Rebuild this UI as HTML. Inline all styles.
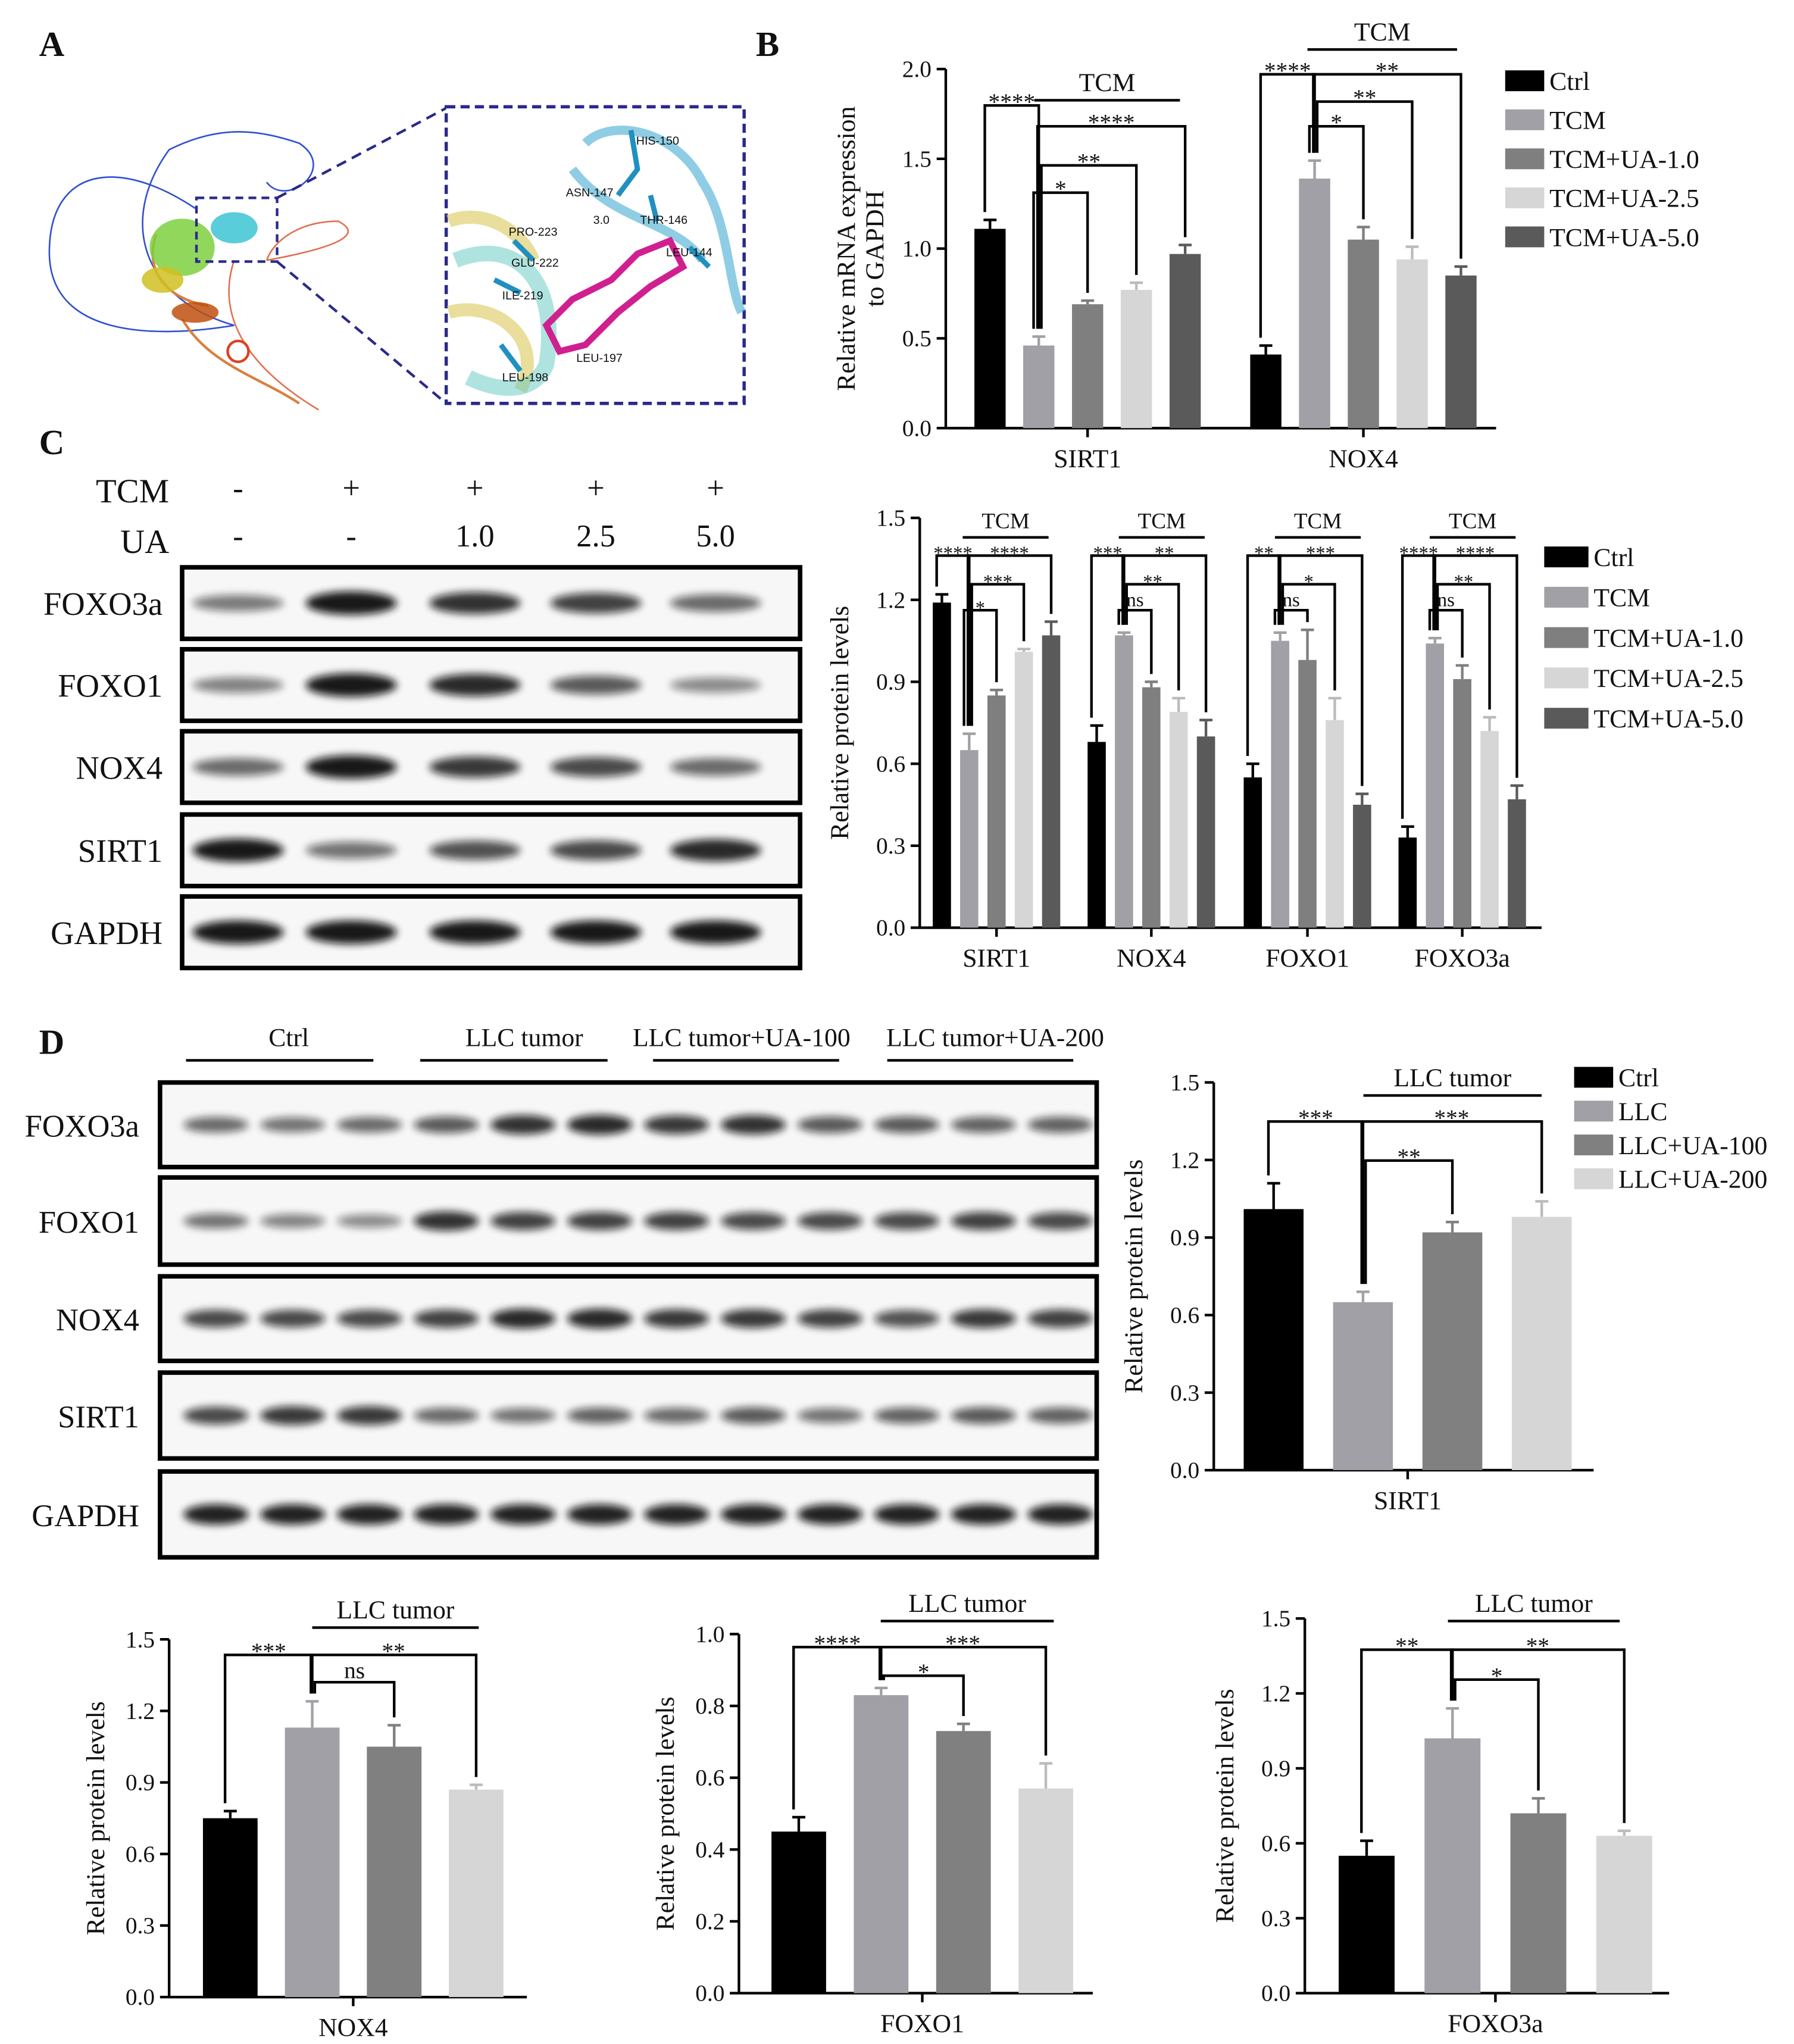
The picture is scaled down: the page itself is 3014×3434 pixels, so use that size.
<!DOCTYPE html>
<html><head><meta charset="utf-8"><style>
html,body{margin:0;padding:0;background:#fff;}
svg{display:block;font-family:"Liberation Serif",serif;}
</style></head><body>
<svg id="fig" width="3014" height="3434" viewBox="0 0 1379 1571" xmlns="http://www.w3.org/2000/svg">
<defs>
<filter id="blur" x="-20%" y="-50%" width="140%" height="200%"><feGaussianBlur stdDeviation="3"/></filter>
</defs>
<g id="root"></g>
</svg>
<script>
// ===== Data =====
const bCats = ["SIRT1","NOX4"];
const bSeries = ["Ctrl","TCM","TCM+UA-1.0","TCM+UA-2.5","TCM+UA-5.0"];
const bSirt1 = [1.11,0.46,0.69,0.77,0.97];
const bSirt1Err = [0.05,0.05,0.02,0.04,0.05];
const bNox4 = [0.41,1.39,1.05,0.94,0.85];
const bNox4Err = [0.05,0.1,0.07,0.07,0.05];
const bTicks = [0,0.5,1.0,1.5,2.0];

const cCats = ["SIRT1","NOX4","FOXO1","FOXO3a"];
const cSirt1 = [1.19,0.65,0.85,1.01,1.07];
const cNox4 = [0.68,1.07,0.88,0.79,0.70];
const cFoxo1 = [0.55,1.05,0.98,0.76,0.45];
const cFoxo3a = [0.33,1.04,0.91,0.72,0.47];
const cSirt1Err = [0.03,0.06,0.02,0.01,0.05];
const cNox4Err = [0.06,0.01,0.02,0.05,0.06];
const cFoxo1Err = [0.05,0.03,0.11,0.08,0.04];
const cFoxo3aErr = [0.04,0.02,0.05,0.05,0.05];
const cTicks = [0,0.3,0.6,0.9,1.2,1.5];

const dSeries = ["Ctrl","LLC","LLC+UA-100","LLC+UA-200"];
const dSirt1 = [1.01,0.65,0.92,0.98];
const dSirt1Err = [0.10,0.04,0.04,0.06];
const dNox4 = [0.75,1.13,1.05,0.87];
const dNox4Err = [0.03,0.11,0.09,0.02];
const dFoxo1 = [0.45,0.83,0.73,0.57];
const dFoxo1Err = [0.04,0.02,0.02,0.07];
const dFoxo3a = [0.55,1.02,0.72,0.63];
const dFoxo3aErr = [0.06,0.12,0.06,0.02];
const dTicks15 = [0,0.3,0.6,0.9,1.2,1.5];
const dTicks10 = [0,0.2,0.4,0.6,0.8,1.0];

const colsB = ["#000000","#a0a0a6","#7f7f7f","#d6d6d6","#5a5a5a"];
const colsD = ["#000000","#a0a0a6","#808080","#d6d6d6"];

// ===== helpers =====
const NS="http://www.w3.org/2000/svg";
const root=document.getElementById('root');
function el(tag,attrs,parent,text){
  const e=document.createElementNS(NS,tag);
  for(const k in attrs)e.setAttribute(k,attrs[k]);
  if(text!==undefined)e.textContent=text;
  (parent||root).appendChild(e);return e;
}
function txt(x,y,s,size,anchor,parent,name,extra){
  const t=el('text',Object.assign({x:x,y:y,'font-size':size,'text-anchor':anchor||'middle',fill:'#111'},extra||{}),parent,s);
  
  
  return t;
}
function line(x1,y1,x2,y2,w,parent,col){
  return el('line',{x1:x1,y1:y1,x2:x2,y2:y2,stroke:col||'#000','stroke-width':w||2},parent);
}

function chart(o){
  const g=el('g',{});
  
  
  const yS=v=>o.y0-v*o.scale;
  const ya=line(o.x0,yS(o.ticks[o.ticks.length-1]),o.x0,o.y0,2,g);
  
  const xa=line(o.x0,o.y0,o.xend,o.y0,2,g);
  
  o.ticks.forEach(t=>{
    line(o.x0-7,yS(t),o.x0,yS(t),2,g);
    txt(o.x0-11,yS(t)+6,t.toFixed(1),o.tf||18,'end',g,'y-tick-label');
  });
  txt(0,0,o.ylabel,o.yf||20,'middle',g,'y-axis-title',{transform:`translate(${o.ylx},${(yS(o.ticks[o.ticks.length-1])+o.y0)/2}) rotate(-90)`});
  if(o.ylabel2){txt(0,0,o.ylabel2,o.yf||20,'middle',g,'y-axis-title',{transform:`translate(${o.ylx+22},${(yS(o.ticks[o.ticks.length-1])+o.y0)/2}) rotate(-90)`});}
  o.groups.forEach(gr=>{
    const tops=[];
    gr.vals.forEach((v,i)=>{
      const x=gr.start+i*o.step;
      const r=el('rect',{x:x,y:yS(v),width:o.bw,height:v*o.scale,fill:o.cols[i]},g);
      
      
      const e=gr.errs[i], cx=x+o.bw/2;
      line(cx,yS(v),cx,yS(v+e),2,g,o.cols[i]==='#d6d6d6'?'#bbb':o.cols[i]);
      line(cx-5,yS(v+e),cx+5,yS(v+e),2,g,o.cols[i]==='#d6d6d6'?'#bbb':o.cols[i]);
      tops.push({cx:cx,top:yS(v+e)});
    });
    const mid=gr.start+((gr.vals.length-1)*o.step+o.bw)/2;
    line(mid,o.y0,mid,o.y0+7,2,g);
    txt(mid,o.y0+(o.xlOff||30),gr.label,o.xf||20,'middle',g,'x-tick-label');
    (gr.br||[]).forEach((b,k)=>{
      const a=tops[b[0]],c=tops[b[1]];
      const off=(b[0]===1?(k%3)*3:0);
      const ax=a.cx-4+off;
      el('polyline',{points:`${ax},${a.top-6} ${ax},${b[2]} ${c.cx},${b[2]} ${c.cx},${c.top-6}`,fill:'none',stroke:'#000','stroke-width':2},g);
      txt((ax+c.cx)/2,b[2]+(b[3]==='ns'?-3:3),b[3],o.sf||18,'middle',g,'significance-label');
    });
    if(gr.top){
      line(gr.top[0],gr.top[2],gr.top[1],gr.top[2],2,g);
      txt((gr.top[0]+gr.top[1])/2,gr.top[2]-7,gr.top[3],o.tlf||20,'middle',g,'group-bracket-label');
    }
  });
  if(o.legend){
    o.legend.names.forEach((n,i)=>{
      const y=o.legend.y+i*o.legend.step;
      const r=el('rect',{x:o.legend.x,y:y-8,width:o.legend.w,height:16,fill:o.cols[i]},g);
      
      txt(o.legend.x+o.legend.w+4,y+7,n,o.legend.f||20,'start',g,'legend-entry');
    });
  }
}

[["A",30,43],["B",581,43],["C",30,349],["D",30,810]].forEach(p=>{
  txt(p[1],p[2],p[0],27,'start',root,'panel-label-'+p[0].toLowerCase(),{'font-weight':'bold'});
});

(function(){
  const g=el('g',{});
  el('path',{d:'M150,160 C90,120 40,130 38,190 C35,260 120,260 180,250 C110,230 90,170 130,115 C170,95 200,100 230,110 C260,130 220,160 205,140',fill:'none',stroke:'#3050d0','stroke-width':1.2},g);
  el('path',{d:'M205,200 C260,190 280,180 260,170 C230,170 210,185 205,200 M180,200 C160,260 220,300 245,315',fill:'none',stroke:'#e07050','stroke-width':1.2},g);
  el('path',{d:'M140,245 C160,280 200,290 230,310 M120,180 C110,210 130,230 160,235',fill:'none',stroke:'#d88040','stroke-width':2},g);
  el('ellipse',{cx:140,cy:190,rx:25,ry:22,fill:'#7ed040',opacity:0.85},g);
  el('ellipse',{cx:125,cy:215,rx:16,ry:10,fill:'#d0c020',opacity:0.85},g);
  el('ellipse',{cx:150,cy:240,rx:18,ry:8,fill:'#c05010',opacity:0.85},g);
  el('ellipse',{cx:180,cy:175,rx:18,ry:12,fill:'#30c0d0',opacity:0.8},g);
  el('circle',{cx:183,cy:270,r:8,fill:'none',stroke:'#e04020','stroke-width':2},g);
  el('rect',{x:151,y:152,width:62,height:49,fill:'none',stroke:'#2a2a8a','stroke-width':2,'stroke-dasharray':'6,4'},g);
  line(213,152,343,83,2,g,'#2a2a8a').setAttribute('stroke-dasharray','8,5');
  line(213,201,343,310,2,g,'#2a2a8a').setAttribute('stroke-dasharray','8,5');
  el('rect',{x:343,y:82,width:229,height:228,fill:'#fff',stroke:'#2a2a8a','stroke-width':2.5,'stroke-dasharray':'7,4'},g);
  el('path',{d:'M345,170 C370,160 400,175 410,200 M345,240 C380,230 420,260 400,300',fill:'none',stroke:'#e0d070','stroke-width':10,opacity:0.7},g);
  el('path',{d:'M350,200 C400,180 430,220 420,280 C410,305 380,300 360,290',fill:'none',stroke:'#60c8c0','stroke-width':12,opacity:0.5},g);
  el('path',{d:'M450,110 C470,90 520,100 540,140 C560,170 560,220 570,240 M440,130 C470,170 520,170 540,200',fill:'none',stroke:'#60b8d8','stroke-width':7,opacity:0.7},g);
  el('path',{d:'M420,250 L440,230 L470,215 L490,195 L515,185 L525,205 L500,220 L475,240 L450,265 L430,270 Z',fill:'none',stroke:'#d02090','stroke-width':5},g);
  el('path',{d:'M485,100 L490,130 L475,150 M500,150 L505,170 M530,190 L545,205 M395,185 L410,200 M380,215 L400,225 M385,265 L400,285',fill:'none',stroke:'#2090c0','stroke-width':4},g);
  [["HIS-150",489,111],["ASN-147",435,151],["THR-146",492,172],["PRO-223",391,181],["LEU-144",512,197],["GLU-222",393,205],["ILE-219",386,230],["LEU-197",443,278],["LEU-198",386,293],["3.0",456,172]].forEach(l=>{
    txt(l[1],l[2],l[0],9,'start',g,'residue-label',{'font-family':'Liberation Sans, sans-serif'});
  });
})();

chart({name:'chart-b-mrna',x0:727,y0:329,scale:138,xend:1150,ticks:bTicks,ylabel:'Relative mRNA expression',ylabel2:'to GAPDH',ylx:657,bw:24,step:37.5,cols:colsB,
  groups:[
    {label:bCats[0],vals:bSirt1,errs:bSirt1Err,start:749,br:[[0,1,81,'****'],[1,4,97,'****'],[1,3,127,'**'],[1,2,148,'*']],top:[795,907,77,'TCM']},
    {label:bCats[1],vals:bNox4,errs:bNox4Err,start:961,br:[[0,1,57,'****'],[1,4,57,'**'],[1,3,78,'**'],[1,2,97,'*']],top:[1005,1120,38,'TCM']}
  ],
  legend:{names:bSeries,x:1157,y:62,step:30,w:30}});

function blot(name,x,y,w,h,label,lanes,ints,labX,bw,bh,labSize){
  const g=el('g',{});
  el('rect',{x:x,y:y,width:w,height:h,fill:'#f7f7f7',stroke:'#000','stroke-width':3.5},g);
  ints.forEach((v,i)=>{
    const b=el('ellipse',{cx:lanes[i],cy:y+h/2,rx:bw/2,ry:bh*(0.5+0.5*v)/2,fill:'#111',opacity:0.25+0.7*v,filter:'url(#blur)'},g);
    
  });
  txt(labX,y+h/2+9,label,labSize||25,'end',g,'blot-row-label');
}
const cLanes=[183,270,365,458,550];
txt(130,386,'TCM',26,'end',root,'tcm-row-label');
txt(130,425,'UA',26,'end',root,'ua-row-label');
["-","+","+","+","+"].forEach((s,i)=>txt(cLanes[i],383,s,24,'middle',root,'tcm-sign'));
["-","-","1.0","2.5","5.0"].forEach((s,i)=>txt(cLanes[i],420,s,24,'middle',root,'ua-dose'));
const cRows=[["FOXO3a",436,[0.4,1,0.85,0.75,0.5]],["FOXO1",499,[0.35,1,0.9,0.6,0.3]],["NOX4",562,[0.5,1,0.8,0.7,0.5]],["SIRT1",626,[1,0.45,0.65,0.7,0.9]],["GAPDH",689,[1,1,1,1,1]]];
cRows.forEach(r=>blot('blot-c-'+r[0].toLowerCase(),140,r[1],475,55,r[0],cLanes,r[2],125,70,18));

chart({name:'chart-c-protein',x0:707,y0:713,scale:210,xend:1185,ticks:cTicks,ylabel:'Relative protein levels',ylx:652,bw:14,step:21,cols:colsB,sf:15,tlf:17,
  groups:[
    {label:cCats[0],vals:cSirt1,errs:cSirt1Err,start:717,br:[[0,1,427,'****'],[1,4,427,'****'],[1,3,449,'***'],[1,2,469,'*']],top:[740,806,413,'TCM']},
    {label:cCats[1],vals:cNox4,errs:cNox4Err,start:836,br:[[0,1,427,'***'],[1,4,427,'**'],[1,3,449,'**'],[1,2,469,'ns']],top:[860,926,413,'TCM']},
    {label:cCats[2],vals:cFoxo1,errs:cFoxo1Err,start:956,br:[[0,1,427,'**'],[1,4,427,'***'],[1,3,449,'*'],[1,2,469,'ns']],top:[980,1046,413,'TCM']},
    {label:cCats[3],vals:cFoxo3a,errs:cFoxo3aErr,start:1075,br:[[0,1,427,'****'],[1,4,427,'****'],[1,3,449,'**'],[1,2,469,'ns']],top:[1099,1165,413,'TCM']}
  ],
  legend:{names:bSeries,x:1187,y:428,step:31,w:34}});

const dLanes=[];for(let i=0;i<12;i++)dLanes.push(166+i*59);
[["Ctrl",222,143,287],["LLC tumor",403,323,467],["LLC tumor+UA-100",570,502,645],["LLC tumor+UA-200",765,682,825]].forEach(h=>{
  txt(h[1],804,h[0],20,'middle',root,'group-header');
  line(h[2],815,h[3],815,2);
});
const dRows=[
 ["FOXO3a",832,65,[0.5,0.45,0.5,0.6,0.85,0.9,0.8,0.85,0.6,0.6,0.55,0.55]],
 ["FOXO1",905,67,[0.45,0.35,0.3,0.85,0.75,0.75,0.75,0.7,0.7,0.7,0.75,0.7]],
 ["NOX4",981,65,[0.7,0.7,0.7,0.75,0.9,0.9,0.8,0.8,0.75,0.65,0.8,0.75]],
 ["SIRT1",1055,66,[0.7,0.8,0.8,0.5,0.45,0.55,0.5,0.6,0.45,0.55,0.6,0.55]],
 ["GAPDH",1131,66,[0.95,0.95,0.95,0.95,0.95,0.95,0.95,0.95,0.95,0.95,0.95,0.95]]];
dRows.forEach(r=>blot('blot-d-'+r[0].toLowerCase(),123,r[1],720,r[2],r[0],dLanes,r[3],107,50,16,24));

chart({name:'chart-d-sirt1',x0:933,y0:1130,scale:198.7,xend:1225,ticks:dTicks15,ylabel:'Relative protein levels',ylx:878,bw:46,step:68.7,cols:colsD,
  groups:[{label:'SIRT1',vals:dSirt1,errs:dSirt1Err,start:956,br:[[0,1,862,'***'],[1,3,862,'***'],[1,2,892,'**']],top:[1048,1185,842,'LLC tumor']}],
  legend:{names:dSeries,x:1210,y:828,step:26,w:30}});
chart({name:'chart-d-nox4',x0:130,y0:1535,scale:183.3,xend:405,ticks:dTicks15,ylabel:'Relative protein levels',ylx:80,bw:42,step:63,cols:colsD,
  groups:[{label:'NOX4',vals:dNox4,errs:dNox4Err,start:156,br:[[0,1,1272,'***'],[1,3,1272,'**'],[1,2,1293,'ns']],top:[240,368,1251,'LLC tumor']}]});
chart({name:'chart-d-foxo1',x0:568,y0:1532,scale:276,xend:840,ticks:dTicks10,ylabel:'Relative protein levels',ylx:518,bw:42,step:63.3,cols:colsD,
  groups:[{label:'FOXO1',vals:dFoxo1,errs:dFoxo1Err,start:593,br:[[0,1,1266,'****'],[1,3,1266,'***'],[1,2,1288,'*']],top:[677,810,1246,'LLC tumor']}]});
chart({name:'chart-d-foxo3a',x0:1003,y0:1532,scale:192,xend:1283,ticks:dTicks15,ylabel:'Relative protein levels',ylx:948,bw:43,step:66,cols:colsD,
  groups:[{label:'FOXO3a',vals:dFoxo3a,errs:dFoxo3aErr,start:1029,br:[[0,1,1268,'**'],[1,3,1268,'**'],[1,2,1291,'*']],top:[1113,1245,1246,'LLC tumor']}]});
</script>
</body></html>
